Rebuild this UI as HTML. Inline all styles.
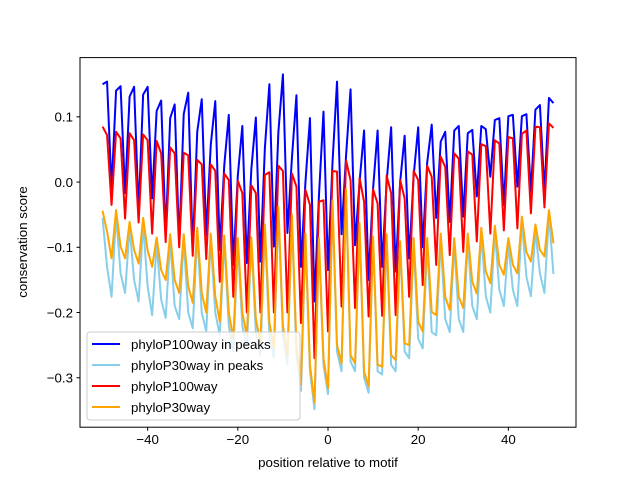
<!DOCTYPE html>
<html><head><meta charset="utf-8"><style>
html,body{margin:0;padding:0;background:#fff;}
svg{display:block;font-family:"Liberation Sans","DejaVu Sans",sans-serif;}
</style></head><body>
<svg id="chart" width="640" height="480" viewBox="0 0 640 480" xmlns="http://www.w3.org/2000/svg">
<rect x="0" y="0" width="640" height="480" fill="#fff"/>
<g id="series"></g>
<rect x="80" y="57.6" width="496" height="369.6" fill="none" stroke="#000" stroke-width="1"/>
<g id="xticks"></g>
<g id="yticks"></g>
<text x="328" y="467" font-size="13.3" text-anchor="middle">position relative to motif</text>
<text transform="translate(27,242) rotate(-90)" font-size="13.3" text-anchor="middle">conservation score</text>
<g id="legend"></g>
</svg>
<script>
const positions = [];
for (let i = -50; i <= 50; i++) positions.push(i);
const phyloP100Peaks = [0.150,0.154,-0.010,0.140,0.147,-0.017,0.131,0.146,-0.045,0.134,0.146,-0.025,0.109,0.125,-0.081,0.098,0.119,-0.096,0.104,0.137,-0.104,0.077,0.127,-0.081,0.057,0.124,-0.104,0.026,0.103,-0.127,0.010,0.086,-0.124,0.020,0.099,-0.122,0.052,0.150,-0.099,0.077,0.165,-0.078,0.037,0.133,-0.130,0.000,0.098,-0.183,-0.020,0.108,-0.135,0.030,0.154,-0.080,0.040,0.142,-0.097,0.000,0.079,-0.150,-0.010,0.079,-0.130,0.000,0.084,-0.137,0.000,0.071,-0.117,0.010,0.084,-0.100,0.030,0.088,-0.055,0.062,0.077,-0.061,0.079,0.086,-0.053,0.075,0.080,-0.022,0.086,0.081,0.008,0.095,0.098,-0.035,0.101,0.103,-0.007,0.101,0.104,-0.015,0.111,0.118,-0.015,0.129,0.121];
const phyloP30Peaks = [-0.055,-0.13,-0.176,-0.05,-0.14,-0.17,-0.07,-0.15,-0.183,-0.065,-0.16,-0.204,-0.095,-0.18,-0.208,-0.09,-0.19,-0.21,-0.09,-0.2,-0.224,-0.08,-0.2,-0.229,-0.09,-0.2,-0.235,-0.09,-0.22,-0.26,-0.095,-0.22,-0.255,-0.095,-0.23,-0.265,-0.075,-0.235,-0.27,-0.045,-0.235,-0.28,-0.06,-0.265,-0.32,-0.09,-0.29,-0.348,-0.095,-0.28,-0.325,-0.035,-0.26,-0.29,-0.02,-0.275,-0.29,-0.07,-0.3,-0.323,-0.09,-0.29,-0.295,-0.09,-0.28,-0.29,-0.1,-0.26,-0.27,-0.095,-0.24,-0.255,-0.095,-0.23,-0.235,-0.09,-0.21,-0.23,-0.095,-0.21,-0.23,-0.09,-0.19,-0.21,-0.08,-0.175,-0.2,-0.075,-0.165,-0.19,-0.095,-0.165,-0.19,-0.06,-0.145,-0.175,-0.075,-0.14,-0.17,-0.05,-0.141];
const phyloP100All = [0.085,0.072,-0.035,0.077,0.067,-0.056,0.075,0.064,-0.062,0.073,0.064,-0.079,0.063,0.044,-0.092,0.053,0.044,-0.100,0.045,0.041,-0.113,0.034,0.027,-0.118,0.027,0.017,-0.153,0.013,0.003,-0.176,0.002,-0.017,-0.200,-0.005,-0.017,-0.200,0.011,0.015,-0.200,0.025,0.017,-0.200,0.013,-0.007,-0.216,-0.012,-0.035,-0.270,-0.030,-0.028,-0.229,0.017,0.016,-0.191,0.033,0.003,-0.193,0.006,-0.030,-0.206,-0.011,-0.033,-0.205,0.010,-0.017,-0.204,0.003,-0.025,-0.176,0.017,0.003,-0.158,0.025,0.008,-0.127,0.039,0.023,-0.112,0.044,0.036,-0.107,0.047,0.042,-0.091,0.058,0.055,-0.079,0.064,0.059,-0.074,0.069,0.067,-0.071,0.074,0.079,-0.048,0.085,0.084,-0.039,0.090,0.083];
const phyloP30All = [-0.044,-0.076,-0.117,-0.043,-0.099,-0.117,-0.061,-0.104,-0.125,-0.055,-0.105,-0.130,-0.085,-0.135,-0.150,-0.080,-0.150,-0.170,-0.080,-0.160,-0.185,-0.070,-0.170,-0.200,-0.079,-0.175,-0.214,-0.082,-0.200,-0.240,-0.086,-0.200,-0.235,-0.085,-0.210,-0.245,-0.065,-0.215,-0.255,-0.038,-0.220,-0.265,-0.050,-0.250,-0.310,-0.079,-0.280,-0.338,-0.086,-0.270,-0.316,-0.028,-0.250,-0.278,-0.011,-0.265,-0.278,-0.063,-0.290,-0.313,-0.084,-0.280,-0.283,-0.080,-0.265,-0.273,-0.091,-0.247,-0.250,-0.086,-0.214,-0.229,-0.086,-0.199,-0.204,-0.079,-0.176,-0.196,-0.086,-0.176,-0.193,-0.079,-0.153,-0.171,-0.070,-0.137,-0.155,-0.067,-0.127,-0.142,-0.086,-0.127,-0.140,-0.053,-0.107,-0.122,-0.065,-0.104,-0.114,-0.043,-0.094];
const xTickValues = [-40,-20,0,20,40];
const xTickLabels = ["\u221240","\u221220","0","20","40"];
const yTickValues = [-0.3,-0.2,-0.1,0.0,0.1];
const yTickLabels = ["\u22120.3","\u22120.2","\u22120.1","0.0","0.1"];
const seriesNames = ["phyloP100way in peaks","phyloP30way in peaks","phyloP100way","phyloP30way"];

const NS = "http://www.w3.org/2000/svg";
const L = 80, R = 576, T = 57.6, B = 427.2;
const xMin = -55, xMax = 55, yMin = -0.3758, yMax = 0.1908;
const xs = v => L + (v - xMin) / (xMax - xMin) * (R - L);
const ys = v => B - (v - yMin) / (yMax - yMin) * (B - T);

const colors = ["#0000ff","#87ceeb","#ff0000","#ffa500"];
const seriesData = [phyloP100Peaks, phyloP30Peaks, phyloP100All, phyloP30All];
const slugs = ["line-phylop100-peaks","line-phylop30-peaks","line-phylop100","line-phylop30"];
const sg = document.getElementById("series");
seriesData.forEach((arr, k) => {
  const p = document.createElementNS(NS, "polyline");
  p.setAttribute("points", arr.map((v, i) => xs(positions[i]).toFixed(2) + "," + ys(v).toFixed(2)).join(" "));
  p.setAttribute("fill", "none");
  p.setAttribute("stroke", colors[k]);
  p.setAttribute("stroke-width", "2");
  p.setAttribute("stroke-linejoin", "round");
  
  
  sg.appendChild(p);
});

const xg = document.getElementById("xticks");
xTickValues.forEach((v, i) => {
  const x = xs(v);
  const t = document.createElementNS(NS, "line");
  t.setAttribute("x1", x); t.setAttribute("x2", x); t.setAttribute("y1", B); t.setAttribute("y2", B + 3.5);
  t.setAttribute("stroke", "#000");
  
  
  xg.appendChild(t);
  const tx = document.createElementNS(NS, "text");
  tx.setAttribute("x", x); tx.setAttribute("y", B + 17); tx.setAttribute("font-size", "13.3"); tx.setAttribute("text-anchor", "middle");
  tx.textContent = xTickLabels[i];
  
  
  xg.appendChild(tx);
});
const yg = document.getElementById("yticks");
yTickValues.forEach((v, i) => {
  const y = ys(v);
  const t = document.createElementNS(NS, "line");
  t.setAttribute("x1", L - 3.5); t.setAttribute("x2", L); t.setAttribute("y1", y); t.setAttribute("y2", y);
  t.setAttribute("stroke", "#000");
  
  
  yg.appendChild(t);
  const tx = document.createElementNS(NS, "text");
  tx.setAttribute("x", L - 7); tx.setAttribute("y", y + 4.8); tx.setAttribute("font-size", "13.3"); tx.setAttribute("text-anchor", "end");
  tx.textContent = yTickLabels[i];
  
  
  yg.appendChild(tx);
});

const lg = document.getElementById("legend");
const box = document.createElementNS(NS, "rect");
box.setAttribute("x", 87); box.setAttribute("y", 332); box.setAttribute("width", 213); box.setAttribute("height", 88);
box.setAttribute("rx", 3); box.setAttribute("fill", "#fff"); box.setAttribute("fill-opacity", "0.8"); box.setAttribute("stroke", "#ccc");


lg.appendChild(box);
seriesNames.forEach((n, k) => {
  const y = 344 + k * 21;
  const ln = document.createElementNS(NS, "line");
  ln.setAttribute("x1", 92); ln.setAttribute("x2", 120); ln.setAttribute("y1", y); ln.setAttribute("y2", y);
  ln.setAttribute("stroke", colors[k]); ln.setAttribute("stroke-width", "2");
  
  
  lg.appendChild(ln);
  const tx = document.createElementNS(NS, "text");
  tx.setAttribute("x", 131); tx.setAttribute("y", y + 5); tx.setAttribute("font-size", "13.3");
  tx.textContent = n;
  
  
  lg.appendChild(tx);
});
</script>
</body></html>
